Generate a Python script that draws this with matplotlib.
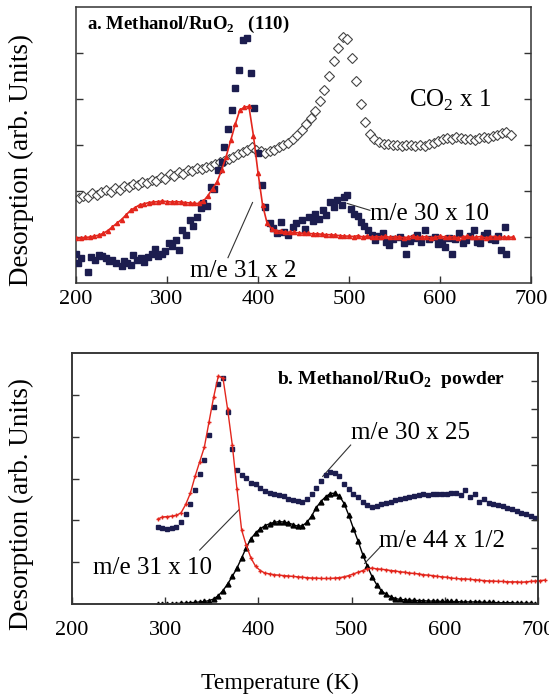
import numpy as np
import matplotlib
matplotlib.use('Agg')
import matplotlib.pyplot as pl

pl.rcParams['font.family'] = ['Liberation Serif', 'DejaVu Serif']
pl.rcParams['mathtext.fontset'] = 'custom'
pl.rcParams['mathtext.rm'] = 'Liberation Serif'
pl.rcParams['mathtext.bf'] = 'Liberation Serif:bold'

#--------------------------------------------------------------------------------------------
# panel a : Methanol/RuO2 (110)

co2_a = [1.84, 1.90, 1.86, 1.95, 1.92, 1.98, 2.02, 1.97, 2.06, 2.03, 2.10, 2.08, 2.15, 2.12,
         2.20, 2.18, 2.25, 2.22, 2.30, 2.27, 2.36, 2.33, 2.42, 2.38, 2.46, 2.43, 2.50, 2.47,
         2.52, 2.55, 2.58, 2.62, 2.65, 2.70, 2.74, 2.80, 2.84, 2.90, 2.95, 2.90, 2.86, 2.82,
         2.86, 2.90, 2.95, 3.00, 3.05, 3.12, 3.22, 3.33, 3.45, 3.58, 3.75, 3.95, 4.20, 4.50,
         4.82, 5.10, 5.35, 5.30, 4.90, 4.40, 3.90, 3.50, 3.25, 3.12, 3.06, 3.03, 3.02, 3.00,
         3.01, 2.98, 3.00, 2.99, 2.97, 3.00, 2.98, 3.02, 3.04, 3.08, 3.12, 3.15, 3.14, 3.18,
         3.15, 3.12, 3.14, 3.11, 3.15, 3.18, 3.16, 3.20, 3.22, 3.26, 3.28, 3.22]
T_co2_a = np.arange(203, 203 + 5*len(co2_a), 5)

T_m30_a = [200, 202, 206, 213, 217, 221, 225, 229, 233, 236, 240, 244, 250, 253, 256, 260, 263,
           267, 271, 275, 279, 283, 287, 290, 294, 298, 302, 306, 310, 313, 317, 321, 325, 329,
           333, 337, 340, 344, 348, 352, 356, 360, 363, 367, 371, 375, 379, 383, 388, 392, 396,
           400, 404, 408, 413, 417, 421, 425, 429, 433, 438, 442, 448, 452, 456, 460, 463, 467,
           471, 475, 479, 483, 487, 492, 495, 498, 502, 506, 510, 513, 517, 521, 525, 529, 533,
           537, 541, 544, 548, 556, 560, 563, 567, 571, 575, 579, 583, 588, 594, 598, 602, 606,
           610, 613, 617, 621, 625, 629, 633, 637, 641, 644, 648, 652, 656, 660, 664, 667, 671, 673]
m30_a = [0.64, 0.43, 0.55, 0.25, 0.57, 0.50, 0.61, 0.58, 0.54, 0.47, 0.50, 0.44, 0.36, 0.48,
         0.43, 0.39, 0.61, 0.49, 0.54, 0.45, 0.57, 0.62, 0.75, 0.58, 0.64, 0.70, 0.86, 0.80,
         0.93, 0.72, 1.15, 1.05, 1.37, 1.25, 1.44, 1.62, 1.73, 1.68, 2.09, 2.05, 2.46, 2.62,
         2.96, 3.35, 3.76, 4.23, 4.63, 5.28, 5.32, 4.56, 3.80, 2.82, 2.13, 1.66, 1.30, 1.20,
         1.08, 1.33, 1.10, 1.04, 1.22, 1.30, 1.37, 1.18, 1.44, 1.35, 1.51, 1.40, 1.59, 1.48,
         1.77, 1.65, 1.80, 1.70, 1.88, 1.91, 1.60, 1.51, 1.45, 1.33, 1.25, 1.15, 1.05, 0.93,
         1.02, 1.08, 0.90, 0.83, 0.95, 1.00, 0.88, 0.64, 0.92, 0.97, 1.05, 0.90, 1.15, 0.95,
         1.00, 0.85, 0.92, 0.79, 0.98, 0.64, 0.95, 1.08, 0.88, 0.93, 1.02, 1.15, 0.90, 0.86,
         1.05, 1.08, 0.95, 0.93, 1.02, 0.72, 1.22, 0.64]

m31_a = [0.97, 0.98, 0.99, 1.00, 1.02, 1.04, 1.08, 1.14, 1.22, 1.30, 1.38, 1.48, 1.58, 1.64,
         1.70, 1.72, 1.75, 1.76, 1.77, 1.78, 1.77, 1.76, 1.77, 1.76, 1.75, 1.74, 1.73, 1.73,
         1.78, 1.90, 2.05, 2.20, 2.45, 2.75, 3.10, 3.45, 3.76, 3.82, 3.84, 3.20, 2.40, 1.70,
         1.30, 1.18, 1.14, 1.12, 1.11, 1.10, 1.10, 1.09, 1.08, 1.08, 1.07, 1.07, 1.06, 1.05,
         1.05, 1.04, 1.03, 1.02, 1.02, 1.01, 1.03, 1.00, 1.02, 0.99, 1.01, 1.00, 1.02, 0.99,
         1.00, 1.01, 0.98, 1.00, 1.02, 0.99, 1.00, 1.01, 0.98, 1.00, 1.02, 1.00, 0.99, 1.01,
         0.98, 1.00, 1.02, 0.99, 1.00, 1.01, 0.98, 1.00, 1.01, 0.99, 1.00, 0.99, 1.00]
T_m31_a = np.arange(200, 200 + 5*len(m31_a), 5)

#--------------------------------------------------------------------------------------------
# panel b : Methanol/RuO2 powder

m31_b = [2.03, 2.08, 2.09, 2.10, 2.12, 2.18, 2.38, 2.65, 3.05, 3.40, 3.75, 4.35, 4.95, 5.45,
         5.40, 4.65, 3.80, 2.75, 1.77, 1.40, 1.10, 0.90, 0.80, 0.74, 0.72, 0.70, 0.69, 0.68,
         0.67, 0.66, 0.65, 0.64, 0.63, 0.62, 0.62, 0.61, 0.61, 0.61, 0.62, 0.63, 0.65, 0.68,
         0.72, 0.76, 0.80, 0.84, 0.86, 0.84, 0.83, 0.82, 0.80, 0.79, 0.77, 0.76, 0.74, 0.73,
         0.72, 0.70, 0.69, 0.68, 0.66, 0.65, 0.64, 0.62, 0.61, 0.60, 0.60, 0.59, 0.58, 0.57,
         0.56, 0.55, 0.55, 0.54, 0.54, 0.53, 0.53, 0.53, 0.52, 0.53, 0.54, 0.55, 0.56, 0.57]
T_m31_b = np.arange(292, 292 + 5*len(m31_b), 5)

m30_b = [1.85, 1.82, 1.80, 1.82, 1.85, 1.97, 2.15, 2.38, 2.72, 3.10, 3.45, 4.05, 4.70, 5.25,
         5.40, 4.60, 3.70, 3.20, 3.08, 3.02, 2.90, 2.86, 2.78, 2.70, 2.66, 2.62, 2.60, 2.58,
         2.52, 2.48, 2.46, 2.44, 2.52, 2.62, 2.78, 2.95, 3.08, 3.15, 3.12, 3.05, 2.88, 2.74,
         2.62, 2.55, 2.44, 2.36, 2.32, 2.35, 2.40, 2.42, 2.45, 2.48, 2.52, 2.54, 2.56, 2.58,
         2.60, 2.62, 2.60, 2.63, 2.62, 2.64, 2.62, 2.65, 2.66, 2.60, 2.72, 2.55, 2.62, 2.45,
         2.52, 2.42, 2.40, 2.36, 2.35, 2.30, 2.27, 2.22, 2.18, 2.14, 2.10, 2.05]
T_m30_b = np.arange(292, 292 + 5*len(m30_b), 5)

m44_b = [0.00, 0.01, 0.00, 0.01, 0.01, 0.02, 0.02, 0.03, 0.04, 0.05, 0.06, 0.08, 0.12, 0.20,
         0.32, 0.48, 0.66, 0.86, 1.10, 1.35, 1.56, 1.70, 1.80, 1.87, 1.92, 1.95, 1.97, 1.96,
         1.94, 1.90, 1.86, 1.87, 1.95, 2.10, 2.30, 2.45, 2.56, 2.64, 2.65, 2.58, 2.40, 2.12,
         1.80, 1.50, 1.18, 0.90, 0.65, 0.46, 0.32, 0.23, 0.17, 0.13, 0.11, 0.10, 0.09, 0.09,
         0.08, 0.08, 0.07, 0.07, 0.07, 0.06, 0.06, 0.06, 0.06, 0.05, 0.05, 0.05, 0.05, 0.05,
         0.04, 0.04, 0.04, 0.03, 0.03, 0.03, 0.03, 0.02, 0.02, 0.02, 0.02, 0.01]
T_m44_b = np.arange(292, 292 + 5*len(m44_b), 5)

#--------------------------------------------------------------------------------------------

navy = '#1c1d4f'
red = '#e3261d'
spc = '#333333'
xt = [200, 300, 400, 500, 600, 700]

fig = pl.figure(figsize=(5.49, 7.0), dpi=100)
ax1 = fig.add_axes([76/549, 1-283/700, 455/549, 276/700])
ax2 = fig.add_axes([72/549, 1-604/700, 466/549, 251/700])

def style(ax, pad):
    for s in ax.spines.values():
        s.set_color(spc); s.set_linewidth(1.1)
    ax.set_xlim(200, 700)
    ax.set_xticks(xt)
    ax.tick_params(axis='x', direction='in', length=5, width=1, color=spc,
                   labelsize=16, pad=pad)
    ax.tick_params(axis='y', direction='in', length=5, width=1, color=spc,
                   labelleft=False, labelright=False)

#------------------
ax1.plot(T_co2_a, co2_a, 'D', ms=5, mfc='white', mec='#444444', mew=0.8, zorder=2)
ax1.plot(T_m30_a, m30_a, 's', ms=4, color=navy, mec=navy, zorder=3, ls='none')
ax1.plot(T_m31_a, m31_a, '-^', ms=3, lw=1.2, color=red, zorder=4)
style(ax1, 5)
ax1.set_ylim(0, 6)
ax1.set_yticks([1, 2, 3, 4, 5])
ax1.tick_params(axis='y', right=True)

ax1.text(212, 5.62, r'a. Methanol/RuO$_\mathbf{2}$   (110)', fontsize=13.5,
         fontweight='bold', va='center')
ax1.text(611, 3.98, r'CO$_2$ x 1', fontsize=18, ha='center', va='center')
ax1.text(523, 1.5, 'm/e 30 x 10', fontsize=18, ha='left', va='center')
ax1.plot([498, 523], [1.73, 1.58], color=spc, lw=0.8)
ax1.text(384, 0.27, 'm/e 31 x 2', fontsize=18, ha='center', va='center')
ax1.plot([367, 394], [0.55, 1.75], color=spc, lw=0.8)

#------------------
ax2.plot(T_m44_b, m44_b, '-^', ms=3.5, lw=1.0, color='black', zorder=2)
ax2.plot(T_m30_b, m30_b, 's', ms=2.8, color=navy, mec=navy, ls='none', zorder=3)
ax2.plot(T_m31_b, m31_b, '-+', ms=3.5, lw=1.0, color=red, zorder=4, clip_on=False)
style(ax2, 12)
ax2.set_ylim(0, 6)
ax2.set_yticks([1, 2, 3, 4, 5])
ax2r = ax2.twinx()
ax2r.set_ylim(0, 9)
ax2r.set_yticks([1, 2, 3, 4, 5, 6, 7, 8])
ax2r.tick_params(axis='y', direction='in', length=5, width=1, color=spc, labelright=False)
for s in ax2r.spines.values():
    s.set_color(spc); s.set_linewidth(1.1)

ax2.text(420, 5.36, r'b. Methanol/RuO$_\mathbf{2}$  powder', fontsize=14,
         fontweight='bold', va='center')
ax2.text(499, 4.08, 'm/e 30 x 25', fontsize=18, ha='left', va='center')
ax2.plot([469, 499], [3.05, 3.8], color=spc, lw=0.8)
ax2.text(529, 1.5, 'm/e 44 x 1/2', fontsize=18, ha='left', va='center')
ax2.plot([514, 531], [0.97, 1.37], color=spc, lw=0.8)
ax2.text(286, 0.85, 'm/e 31 x 10', fontsize=18, ha='center', va='center')
ax2.plot([337, 379], [1.29, 2.25], color=spc, lw=0.8)

fig.text(21/549, 1-160/700, 'Desorption (arb. Units)', rotation=90, fontsize=19.5,
         ha='center', va='center')
fig.text(21/549, 1-504/700, 'Desorption (arb. Units)', rotation=90, fontsize=19.5,
         ha='center', va='center')
fig.text(280/549, 1-683/700, 'Temperature (K)', fontsize=17, ha='center', va='center')

fig.savefig('out.png', dpi=100)
